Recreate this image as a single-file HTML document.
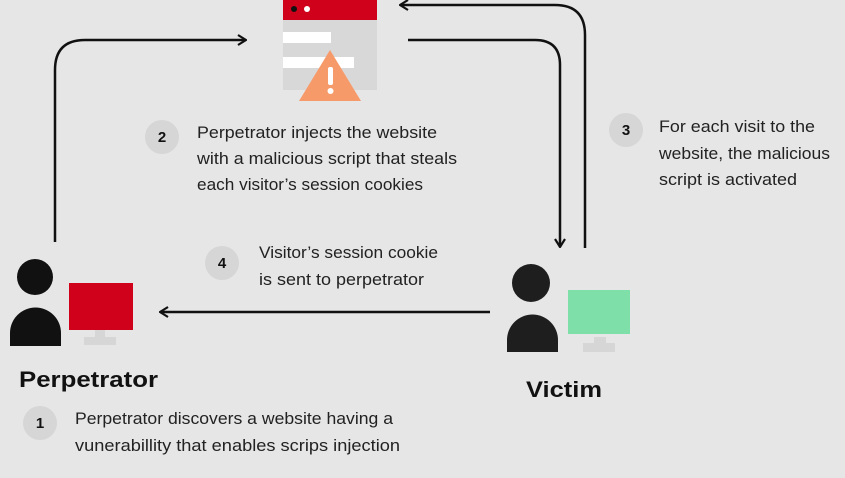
<!DOCTYPE html>
<html><head><style>
body{margin:0;width:845px;height:478px;background:#e6e6e6;overflow:hidden;font-family:"Liberation Sans",sans-serif;}
</style></head><body>
<svg width="845" height="478" viewBox="0 0 845 478" xmlns="http://www.w3.org/2000/svg" style="position:absolute;left:0;top:0">
<defs><marker id="a" markerWidth="10" markerHeight="12" refX="9" refY="6" orient="auto" markerUnits="userSpaceOnUse"><path d="M1,1 L9,6 L1,11" fill="none" stroke="#111" stroke-width="2.2"/></marker></defs>
<g fill="none" stroke="#111" stroke-width="2.5">
<path d="M55,242 V70 Q55,40 85,40 H246" marker-end="url(#a)"/>
<path d="M408,40 H535 Q560,40 560,65 V247" marker-end="url(#a)"/>
<path d="M585,248 V35 Q585,5 555,5 H400" marker-end="url(#a)"/>
<path d="M490,312 H160" marker-end="url(#a)"/>
</g>
<rect x="283" y="0" width="94" height="90" fill="#d8d8d8"/>
<rect x="283" y="0" width="94" height="20" fill="#d0021b"/>
<circle cx="294" cy="9" r="3" fill="#111"/><circle cx="307" cy="9" r="3" fill="#fff"/>
<rect x="283" y="32" width="48" height="11" fill="#fff"/>
<rect x="283" y="57" width="71" height="11" fill="#fff"/>
<path d="M330,50 L361,101 L299,101 Z" fill="#f79a6a"/>
<rect x="328" y="67" width="5" height="18" rx="2" fill="#fff"/><circle cx="330.5" cy="91" r="3" fill="#fff"/>
<circle cx="35" cy="277" r="18" fill="#111"/>
<path d="M10,346 V333 A25.5,25.5 0 0 1 61,333 V346 Z" fill="#111"/>
<rect x="69" y="283" width="64" height="47" fill="#d0021b"/>
<rect x="95" y="330" width="10" height="7" fill="#d6d6d6"/><rect x="84" y="337" width="32" height="8" fill="#d6d6d6"/>
<circle cx="531" cy="283" r="19" fill="#1e1e1e"/>
<path d="M507,352 V340 A25.5,25.5 0 0 1 558,340 V352 Z" fill="#1e1e1e"/>
<rect x="568" y="290" width="62" height="44" fill="#7ee0a8"/>
<rect x="594" y="337" width="12" height="6" fill="#d6d6d6"/><rect x="583" y="343" width="32" height="9" fill="#d6d6d6"/>
<g fill="#d6d6d6"><circle cx="162" cy="137" r="17"/><circle cx="626" cy="130" r="17"/><circle cx="222" cy="263" r="17"/><circle cx="40" cy="423" r="17"/></g>
<g font-weight="bold" font-size="15" fill="#111" text-anchor="middle"><text x="162" y="142">2</text><text x="626" y="135">3</text><text x="222" y="268">4</text><text x="40" y="428">1</text></g>
<g font-size="16.5" fill="#222" lengthAdjust="spacingAndGlyphs">
<text x="197" y="138" textLength="240" lengthAdjust="spacingAndGlyphs">Perpetrator injects the website</text>
<text x="197" y="164" textLength="260" lengthAdjust="spacingAndGlyphs">with a malicious script that steals</text>
<text x="197" y="190" textLength="226" lengthAdjust="spacingAndGlyphs">each visitor’s session cookies</text>
<text x="659" y="132" textLength="156" lengthAdjust="spacingAndGlyphs">For each visit to the</text>
<text x="659" y="159" textLength="171" lengthAdjust="spacingAndGlyphs">website, the malicious</text>
<text x="659" y="185" textLength="138" lengthAdjust="spacingAndGlyphs">script is activated</text>
<text x="259" y="258" textLength="179" lengthAdjust="spacingAndGlyphs">Visitor’s session cookie</text>
<text x="259" y="285" textLength="165" lengthAdjust="spacingAndGlyphs">is sent to perpetrator</text>
<text x="75" y="424" textLength="318" lengthAdjust="spacingAndGlyphs">Perpetrator discovers a website having a</text>
<text x="75" y="451" textLength="325" lengthAdjust="spacingAndGlyphs">vunerabillity that enables scrips injection</text>
</g>
<g font-weight="bold" font-size="22" fill="#111"><text x="19" y="387" textLength="139" lengthAdjust="spacingAndGlyphs">Perpetrator</text><text x="526" y="397" textLength="76" lengthAdjust="spacingAndGlyphs">Victim</text></g>
</svg>
</body></html>
